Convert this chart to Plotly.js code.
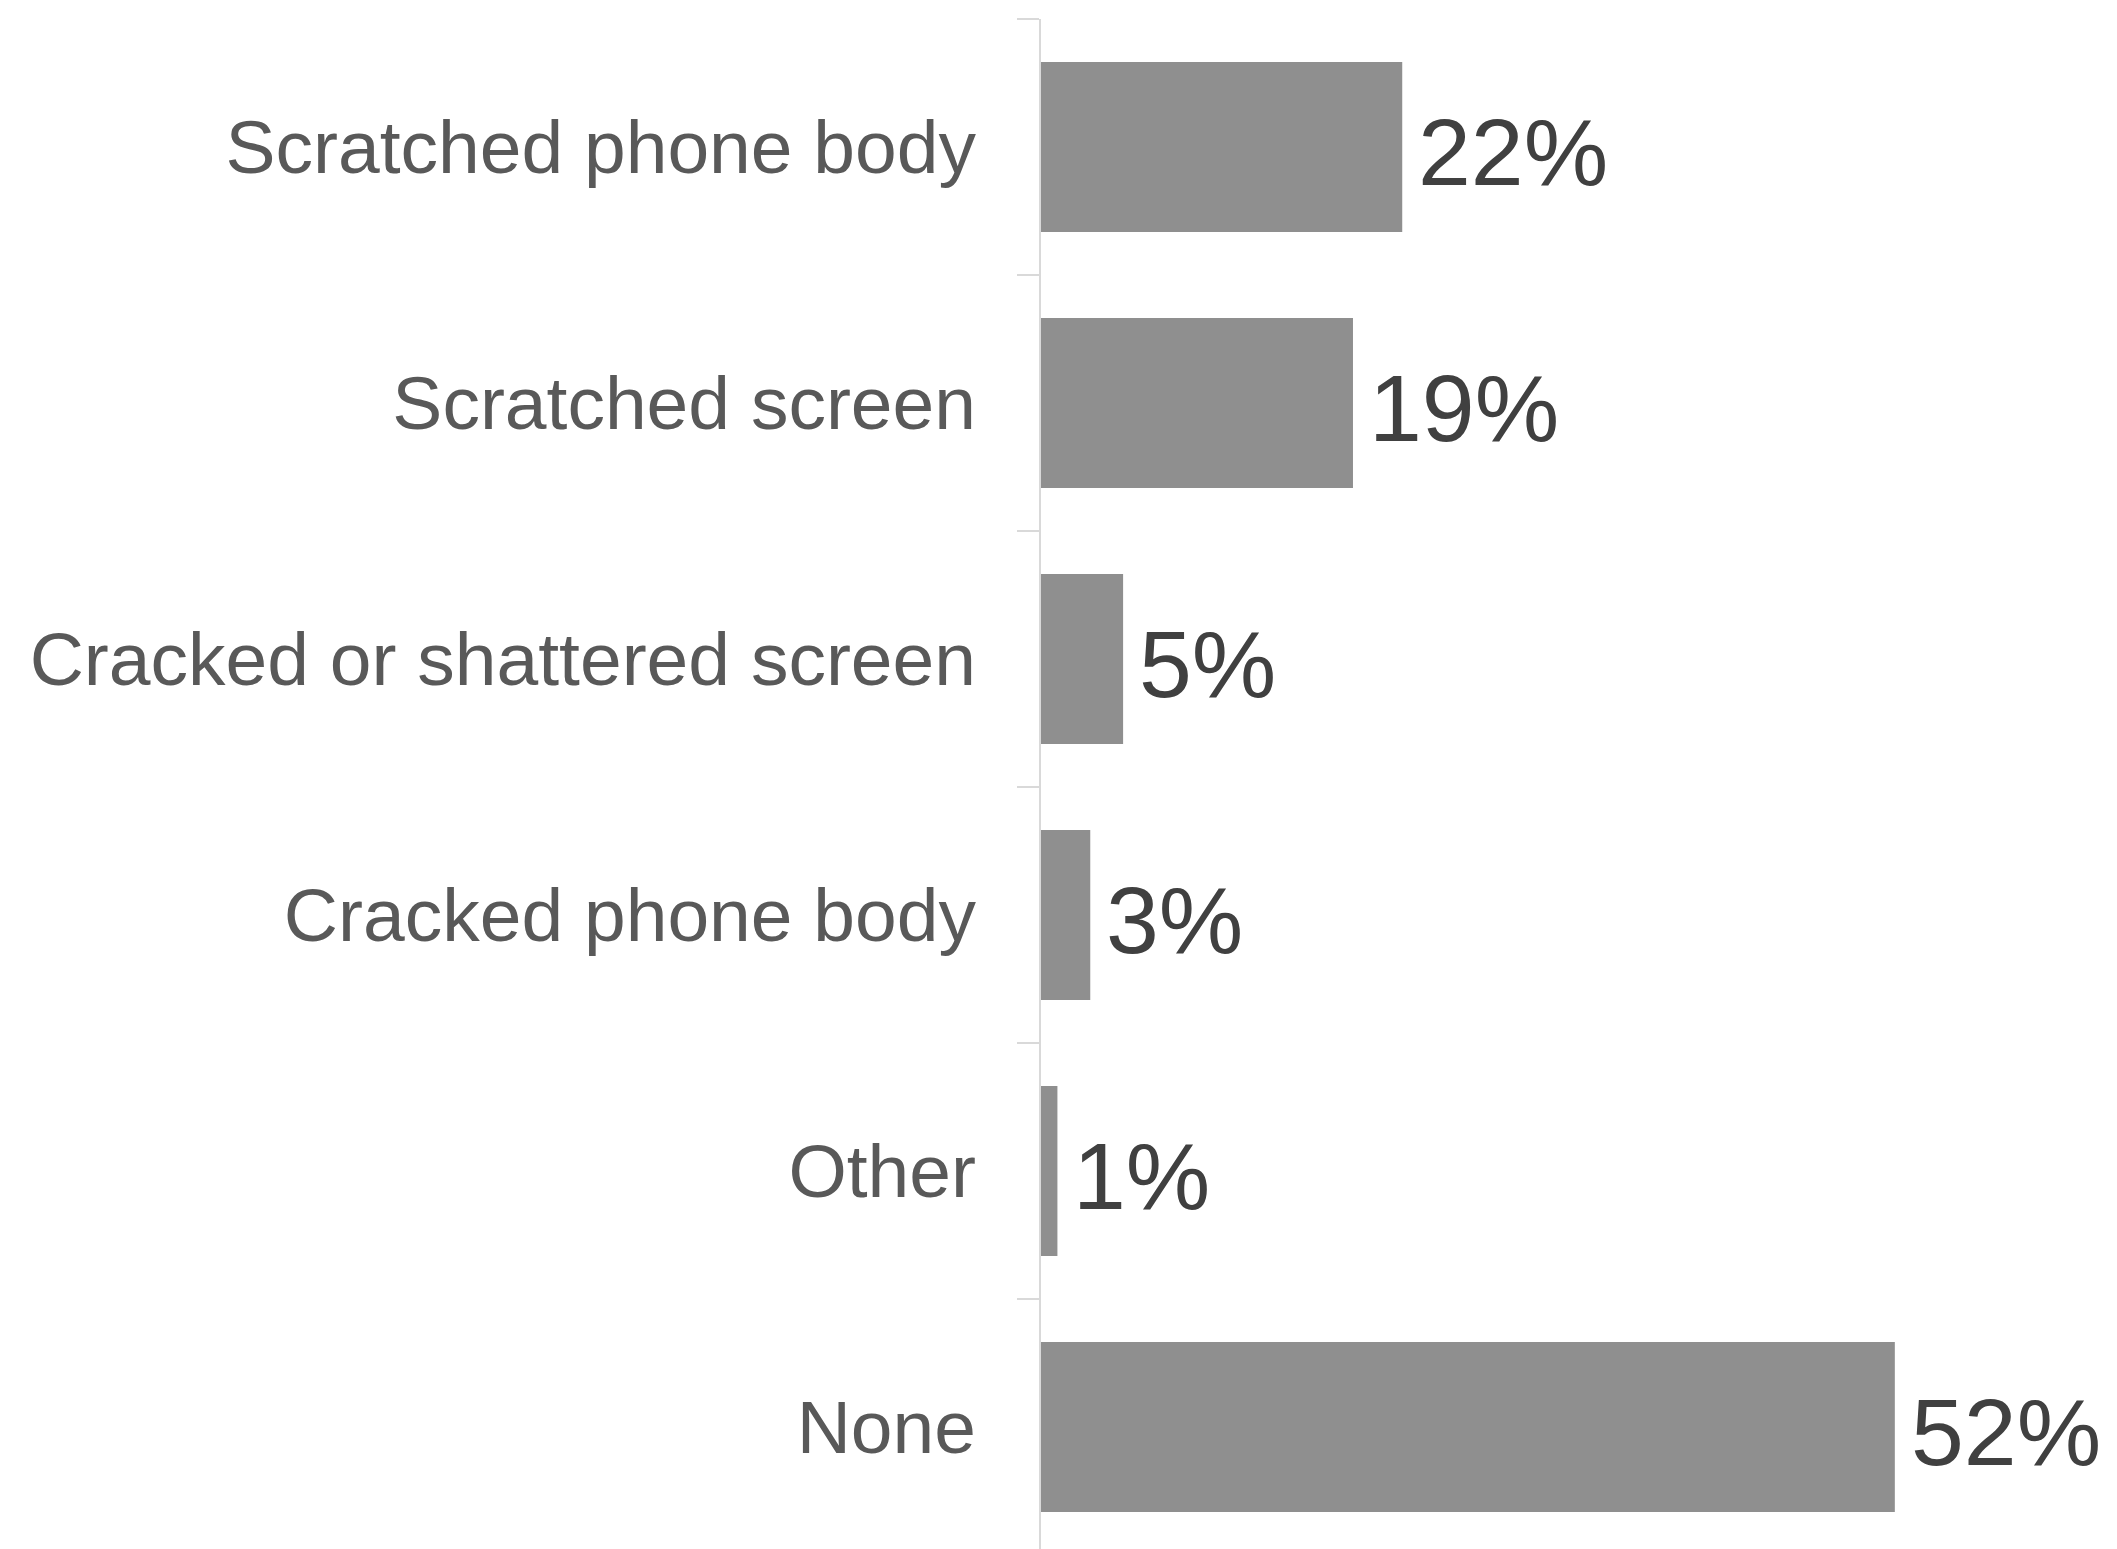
<!DOCTYPE html>
<html>
<head>
<meta charset="utf-8">
<script src="https://cdn.plot.ly/plotly-3.0.1.min.js"></script>
<style>html,body{margin:0;padding:0;background:#fff;}#chart{width:2117px;height:1549px;}</style>
</head>
<body>
<div id="chart"></div>
<script>
const categories = ["Scratched phone body", "Scratched screen", "Cracked or shattered screen", "Cracked phone body", "Other", "None"];
const values = [22, 19, 5, 3, 1, 52];
const valueLabels = ["22%", "19%", "5%", "3%", "1%", "52%"];

const trace = {
  type: 'bar',
  orientation: 'h',
  y: categories,
  x: values,
  width: 0.664,
  marker: {color: '#8f8f8f'},
  hoverinfo: 'none'
};

const annotations = categories.map((c, i) => ({
  x: values[i],
  y: c,
  xref: 'x',
  yref: 'y',
  text: valueLabels[i],
  showarrow: false,
  xanchor: 'left',
  yanchor: 'middle',
  xshift: 14,
  yshift: -5,
  font: {family: 'Liberation Sans, Arial, sans-serif', size: 95, color: '#404040'}
}));

const layout = {
  width: 2117,
  height: 1549,
  margin: {l: 1041, r: 12, t: 19, b: 0, pad: 0},
  paper_bgcolor: '#ffffff',
  plot_bgcolor: '#ffffff',
  showlegend: false,
  font: {family: 'Liberation Sans, Arial, sans-serif'},
  annotations: annotations,
  xaxis: {
    range: [0, 64.8],
    visible: false,
    showgrid: false,
    zeroline: false
  },
  yaxis: {
    type: 'category',
    categoryorder: 'array',
    categoryarray: categories,
    range: [5.4766, -0.5],
    showline: true,
    linecolor: '#d9d9d9',
    linewidth: 2,
    ticks: 'outside',
    tickson: 'boundaries',
    ticklen: 22,
    tickwidth: 2,
    tickcolor: '#d9d9d9',
    showgrid: false,
    zeroline: false,
    tickfont: {family: 'Liberation Sans, Arial, sans-serif', size: 75, color: '#595959'},
    ticklabelstandoff: 48
  }
};

Plotly.newPlot('chart', [trace], layout, {displayModeBar: false, staticPlot: true});
</script>
</body>
</html>
